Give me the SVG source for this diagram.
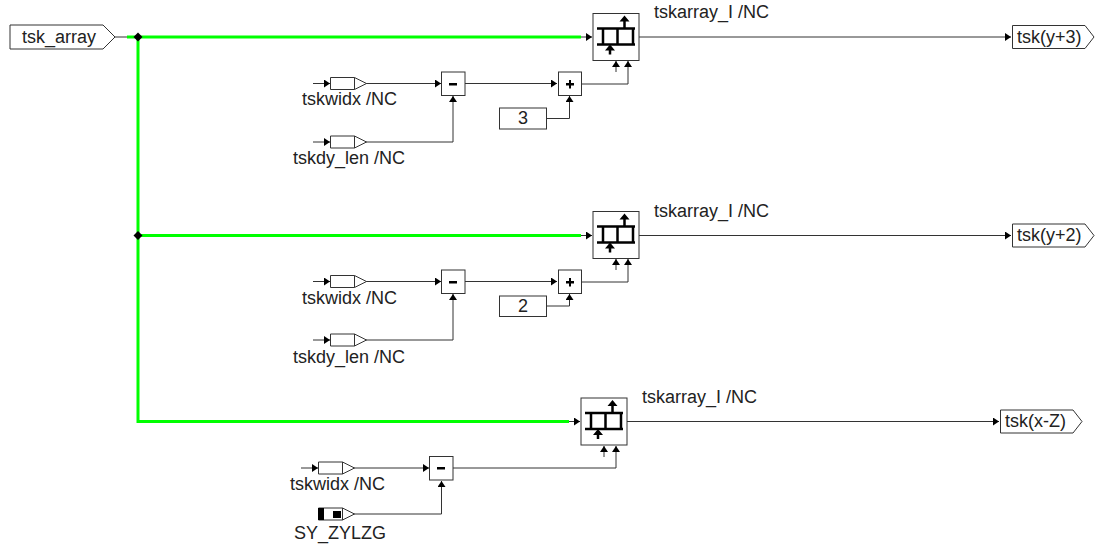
<svg xmlns="http://www.w3.org/2000/svg" width="1096" height="548" viewBox="0 0 1096 548">
<style>
.b{fill:#fff;stroke:#333;stroke-width:1}
.w{fill:none;stroke:#333;stroke-width:1}
.g{fill:none;stroke:#00ff00;stroke-width:3}
.h{fill:#000;stroke:none}
.i{fill:none;stroke:#000;stroke-width:2.500}
text{font-family:"Liberation Sans",Arial,sans-serif;font-size:18px;fill:#222}
.c{text-anchor:middle}
</style>
<defs>
<marker id="ar" markerUnits="userSpaceOnUse" markerWidth="7" markerHeight="8" refX="6" refY="4" orient="auto"><path d="M0 0L6 4L0 8Z" fill="#000"/></marker>
<g id="arr">
<rect class="b" x="0" y="0" width="46" height="47"/>
<path class="i" d="M4 15H42M4 31H42M10 15V31M24.500 15V31M40 15V31"/>
<path class="i" d="M31.500 15V7M17 41V33"/>
<path class="h" d="M31.500 2L36.500 8H26.500ZM17 31L22 37H12Z"/>
</g>
<g id="inp">
<path class="b" d="M0 0H24L36 6L24 12H0Z"/><path class="w" d="M24 0V12"/>
</g>
</defs>
<g id="connectors">
<path class="w" d="M115 37H138"/>
<path class="g" d="M127 37H581M138 37V421.500H569M138 235.500H581"/>
<path class="w" d="M581 37H592" marker-end="url(#ar)"/>
<path class="w" d="M581 235.500H592" marker-end="url(#ar)"/>
<path class="w" d="M569 421.500H580" marker-end="url(#ar)"/>
<path class="w" d="M639 37H1011" marker-end="url(#ar)"/>
<path class="w" d="M639 235.500H1011" marker-end="url(#ar)"/>
<path class="w" d="M627 421.500H999" marker-end="url(#ar)"/>
<path class="w" d="M313 83.500H330" marker-end="url(#ar)"/>
<path class="w" d="M313 142H330" marker-end="url(#ar)"/>
<path class="w" d="M366 83.500H441" marker-end="url(#ar)"/>
<path class="w" d="M366 142H453V96" marker-end="url(#ar)"/>
<path class="w" d="M465 83.500H557" marker-end="url(#ar)"/>
<path class="w" d="M546 118.500H569.500V96" marker-end="url(#ar)"/>
<path class="w" d="M582 84H628V61" marker-end="url(#ar)"/>
<path class="w" d="M616 72V61" marker-end="url(#ar)"/>
<path class="w" d="M313 281.500H330" marker-end="url(#ar)"/>
<path class="w" d="M313 340H330" marker-end="url(#ar)"/>
<path class="w" d="M366 281.500H441" marker-end="url(#ar)"/>
<path class="w" d="M366 340H453V294" marker-end="url(#ar)"/>
<path class="w" d="M465 281.500H557" marker-end="url(#ar)"/>
<path class="w" d="M546 306H569.500V294" marker-end="url(#ar)"/>
<path class="w" d="M582 282H628V259" marker-end="url(#ar)"/>
<path class="w" d="M616 270V259" marker-end="url(#ar)"/>
<path class="w" d="M301 468H318" marker-end="url(#ar)"/>
<path class="w" d="M354 468H429" marker-end="url(#ar)"/>
<path class="w" d="M354 514H441.500V481" marker-end="url(#ar)"/>
<path class="w" d="M453 468H616V446" marker-end="url(#ar)"/>
<path class="w" d="M604 457V446" marker-end="url(#ar)"/>
<path class="h" d="M138 32.500L142.500 37L138 41.500L133.500 37Z"/>
<path class="h" d="M138 231L142.500 235.500L138 240L133.500 235.500Z"/>
</g>
<g id="in_tsk_array"><path class="b" d="M10 25H103L115 37L103 49H10Z"/><text x="22" y="43">tsk_array</text></g>
<g id="arr1"><use href="#arr" x="593" y="13.500"/><text x="654" y="18">tskarray_I /NC</text></g>
<g id="arr2"><use href="#arr" x="593" y="211.500"/><text x="654" y="217">tskarray_I /NC</text></g>
<g id="arr3"><use href="#arr" x="581" y="398"/><text x="642" y="403">tskarray_I /NC</text></g>
<g id="out1"><path class="b" d="M1012.500 25.500H1085L1094 37L1085 48.500H1012.500Z"/><text x="1017" y="43">tsk(y+3)</text></g>
<g id="out2"><path class="b" d="M1012.500 224H1085L1094 235.500L1085 247H1012.500Z"/><text x="1017" y="241">tsk(y+2)</text></g>
<g id="out3"><path class="b" d="M1000.500 410H1073L1082 421.500L1073 433H1000.500Z"/><text x="1005" y="427">tsk(x-Z)</text></g>
<g id="w1"><use href="#inp" x="330.500" y="77.500"/><text x="302" y="105">tskwidx /NC</text></g>
<g id="d1"><use href="#inp" x="330.500" y="136"/><text x="293" y="164">tskdy_len /NC</text></g>
<g id="w2"><use href="#inp" x="330.500" y="275.500"/><text x="302" y="304">tskwidx /NC</text></g>
<g id="d2"><use href="#inp" x="330.500" y="334"/><text x="293" y="363">tskdy_len /NC</text></g>
<g id="w3"><use href="#inp" x="318.500" y="462"/><text x="290" y="490">tskwidx /NC</text></g>
<g id="sy"><use href="#inp" x="318.500" y="508"/><rect class="h" x="318" y="508" width="6" height="12"/><rect class="h" x="333" y="511" width="8" height="7"/><text x="294" y="539">SY_ZYLZG</text></g>
<g id="m1"><rect class="b" x="441.500" y="72" width="23.500" height="23.500"/><rect class="h" x="449" y="83" width="8" height="2.500"/></g>
<g id="m2"><rect class="b" x="441.500" y="270" width="23.500" height="23.500"/><rect class="h" x="449" y="281" width="8" height="2.500"/></g>
<g id="m3"><rect class="b" x="429.500" y="456.500" width="23.500" height="23.500"/><rect class="h" x="437" y="467" width="8" height="2.500"/></g>
<g id="p1"><rect class="b" x="558.500" y="72" width="23" height="23.500"/><path class="h" d="M566 83h3v-3h2v3h3v2.500h-3v3h-2v-3h-3z"/></g>
<g id="p2"><rect class="b" x="558.500" y="270" width="23" height="23.500"/><path class="h" d="M566 281h3v-3h2v3h3v2.500h-3v3h-2v-3h-3z"/></g>
<g id="c3"><rect class="b" x="499.500" y="108" width="47" height="21"/><text class="c" x="523" y="124">3</text></g>
<g id="c2"><rect class="b" x="499.500" y="296" width="47" height="20.500"/><text class="c" x="523" y="312">2</text></g>
</svg>
